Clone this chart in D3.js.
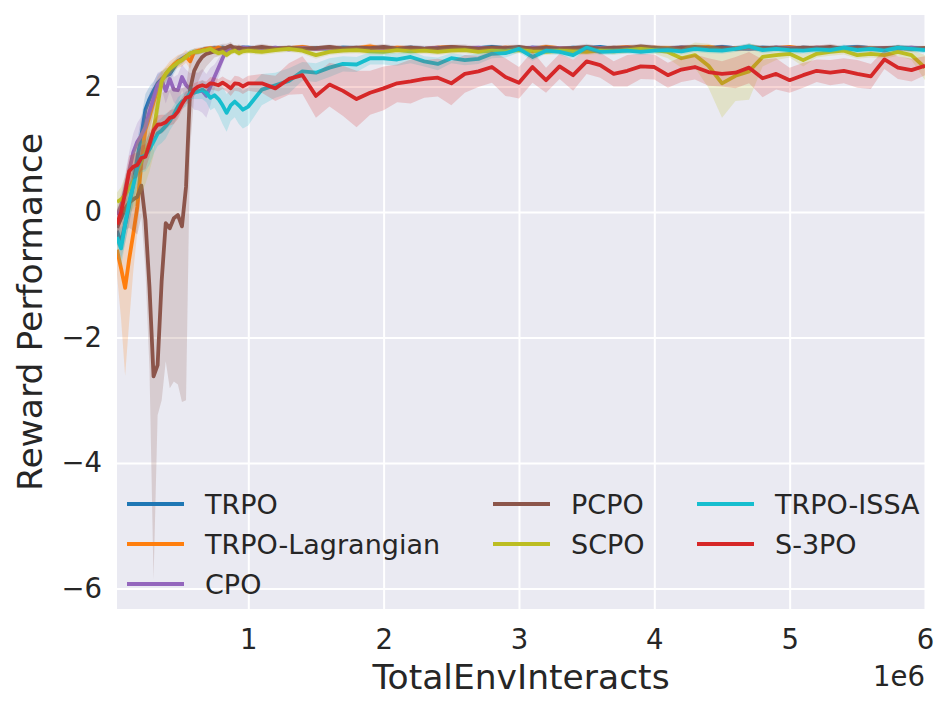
<!DOCTYPE html>
<html>
<head>
<meta charset="utf-8">
<script src="https://cdn.jsdelivr.net/npm/d3@7"></script>
<style>
  body { margin: 0; background: #fff; }
  svg { display: block; font-family: "DejaVu Sans", sans-serif; }
</style>
</head>
<body>
<svg id="chart"></svg>
<script>
// env steps, in units of 1e6
var steps = [0.03,0.06,0.09,0.12,0.15,0.18,0.21,0.24,0.27,0.30,0.33,0.36,0.39,0.42,0.45,0.48,0.51,0.54,0.57,0.60,0.63,0.66,0.69,0.72,0.75,0.78,0.81,0.84,0.87,0.90,0.93,0.96,
  1.0,1.1,1.2,1.3,1.4,1.5,1.6,1.7,1.8,1.9,2.0,2.1,2.2,2.3,2.4,2.5,2.6,2.7,2.8,2.9,3.0,3.1,3.2,3.3,3.4,3.5,3.6,3.7,3.8,3.9,
  4.0,4.1,4.2,4.3,4.4,4.5,4.6,4.7,4.8,4.9,5.0,5.1,5.2,5.3,5.4,5.5,5.6,5.7,5.8,5.9,6.0];

var xTicks = [1,2,3,4,5,6];
var yTicks = [-6,-4,-2,0,2];

// mean reward per algorithm, and half width of the shaded band
var trpoReward = [-0.3,-0.5,-0.2,0.1,0.45,0.85,1.22,1.63,1.8,1.93,2.05,2.12,2.17,2.2,2.3,2.4,2.44,2.48,2.52,2.55,2.56,2.58,2.6,2.6,2.61,2.6,2.62,2.6,2.61,2.62,2.61,2.62,
  2.62,2.6,2.61,2.6,2.62,2.61,2.6,2.62,2.61,2.6, 2.62,2.61,2.62,2.6,2.61,2.62,2.6,2.61,2.63,2.61,
  2.6,2.62,2.61,2.6,2.62,2.61,2.63,2.6,2.61,2.62, 2.6,2.61,2.62,2.6,2.61,2.63,2.61,2.6,2.62,2.61,
  2.6,2.62,2.61,2.6,2.62,2.63,2.61,2.6,2.62,2.61, 2.6];
var trpoBand = [0.2,0.25,0.3,0.3,0.3,0.3,0.3,0.25,0.2,0.15,0.15,0.12,0.12,0.1,0.1,0.08,0.08,0.06,0.06,0.05,0.05,0.05,0.04,0.04,0.04,0.04,0.04,0.04,0.04,0.04,0.04,0.04,
  0.04,0.03,0.04,0.04,0.03,0.04,0.03,0.04,0.04,0.03, 0.04,0.03,0.04,0.04,0.03,0.04,0.03,0.04,0.04,0.03,
  0.04,0.03,0.04,0.04,0.03,0.04,0.03,0.04,0.04,0.03, 0.04,0.03,0.04,0.04,0.03,0.04,0.03,0.04,0.04,0.03,
  0.04,0.03,0.04,0.04,0.03,0.04,0.03,0.04,0.04,0.03, 0.04];

var lagReward = [-0.6,-0.9,-1.21,-0.75,-0.35,0.08,0.8,1.31,1.52,1.75,1.95,2.1,2.2,2.28,2.35,2.4,2.42,2.48,2.4,2.55,2.57,2.58,2.6,2.61,2.6,2.62,2.6,2.61,2.6,2.62,2.61,2.6,
  2.6,2.62,2.6,2.61,2.63,2.6,2.62,2.6,2.61,2.64, 2.6,2.62,2.61,2.6,2.62,2.63,2.6,2.61,2.6,2.62,
  2.61,2.6,2.63,2.61,2.6,2.62,2.6,2.61,2.63,2.6, 2.62,2.61,2.6,2.62,2.63,2.6,2.61,2.62,2.6,2.61,
  2.63,2.6,2.62,2.61,2.6,2.62,2.61,2.6,2.62,2.6, 2.61];
var lagBand = [0.4,0.8,1.4,1.0,0.6,0.4,0.35,0.3,0.25,0.2,0.2,0.15,0.12,0.12,0.1,0.1,0.1,0.1,0.12,0.06,0.05,0.05,0.04,0.04,0.04,0.04,0.04,0.04,0.04,0.04,0.04,0.04,
  0.03,0.04,0.04,0.03,0.04,0.03,0.04,0.04,0.03,0.05, 0.03,0.04,0.04,0.03,0.04,0.03,0.04,0.04,0.03,0.04,
  0.03,0.04,0.04,0.03,0.04,0.03,0.04,0.04,0.03,0.04, 0.03,0.04,0.04,0.03,0.04,0.03,0.04,0.04,0.03,0.04,
  0.03,0.04,0.04,0.03,0.04,0.03,0.04,0.04,0.03,0.04, 0.03];

var cpoReward = [-0.05,0.1,0.35,0.65,0.95,1.12,1.22,1.35,1.6,1.81,2.02,2.1,1.93,2.12,1.95,1.94,2.15,2.02,1.96,1.93,1.92,1.93,1.85,2.0,2.15,2.3,2.45,2.58,2.6,2.61,2.6,2.62,
  2.61,2.6,2.62,2.59,2.61,2.6,2.62,2.6,2.61,2.59, 2.62,2.6,2.61,2.6,2.62,2.6,2.61,2.62,2.6,2.61,
  2.59,2.62,2.6,2.61,2.6,2.62,2.61,2.6,2.62,2.6, 2.61,2.6,2.62,2.61,2.6,2.62,2.6,2.61,2.6,2.62,
  2.61,2.6,2.62,2.61,2.6,2.62,2.6,2.61,2.6,2.62, 2.6];
var cpoBand = [0.15,0.2,0.25,0.3,0.3,0.3,0.3,0.3,0.3,0.25,0.2,0.15,0.2,0.2,0.2,0.25,0.2,0.25,0.25,0.3,0.3,0.35,0.35,0.3,0.2,0.15,0.1,0.06,0.05,0.04,0.04,0.04,
  0.04,0.04,0.03,0.04,0.04,0.03,0.04,0.04,0.03,0.04, 0.04,0.03,0.04,0.04,0.03,0.04,0.04,0.03,0.04,0.04,
  0.03,0.04,0.04,0.03,0.04,0.04,0.03,0.04,0.04,0.03, 0.04,0.04,0.03,0.04,0.04,0.03,0.04,0.04,0.03,0.04,
  0.04,0.03,0.04,0.04,0.03,0.04,0.04,0.03,0.04,0.04, 0.03];

var pcpoReward = [-0.25,-0.1,0.05,0.15,0.2,0.24,0.42,-0.13,-1.2,-2.62,-2.44,-1.1,-0.18,-0.26,-0.1,-0.05,-0.23,0.4,1.95,2.25,2.38,2.47,2.52,2.54,2.56,2.58,2.6,2.62,2.65,2.6,2.62,2.6,
  2.6,2.63,2.6,2.62,2.6,2.61,2.63,2.6,2.62,2.61, 2.63,2.6,2.62,2.6,2.61,2.63,2.62,2.6,2.62,2.61,
  2.63,2.6,2.62,2.6,2.61,2.63,2.6,2.62,2.61,2.64, 2.62,2.6,2.62,2.63,2.61,2.62,2.6,2.63,2.61,2.62,
  2.6,2.62,2.61,2.63,2.6,2.62,2.6,2.61,2.62,2.6, 2.61];
var pcpoBandLo = [0.3,0.3,0.35,0.4,0.5,0.6,0.5,0.8,1.3,3.24,0.8,1.9,2.2,2.55,2.6,2.7,2.8,3.4,0.95,0.4,0.3,0.25,0.2,0.15,0.1,0.1,0.08,0.08,0.06,0.06,0.05,0.05,
  0.04,0.05,0.04,0.04,0.05,0.04,0.04,0.05,0.04,0.04, 0.05,0.04,0.04,0.05,0.04,0.04,0.05,0.04,0.04,0.05,
  0.04,0.04,0.05,0.04,0.04,0.05,0.04,0.04,0.05,0.04, 0.04,0.05,0.04,0.04,0.05,0.04,0.04,0.05,0.04,0.04,
  0.05,0.04,0.04,0.05,0.04,0.04,0.05,0.04,0.04,0.05, 0.04];
var pcpoBandHi = [0.3,0.3,0.35,0.4,0.5,0.5,0.3,1.2,2.5,3.6,4.0,3.0,2.1,2.2,2.1,2.0,2.2,1.6,0.5,0.3,0.2,0.15,0.12,0.1,0.1,0.08,0.08,0.06,0.06,0.05,0.05,0.05,
  0.04,0.05,0.04,0.04,0.05,0.04,0.04,0.05,0.04,0.04, 0.05,0.04,0.04,0.05,0.04,0.04,0.05,0.04,0.04,0.05,
  0.04,0.04,0.05,0.04,0.04,0.05,0.04,0.04,0.05,0.04, 0.04,0.05,0.04,0.04,0.05,0.04,0.04,0.05,0.04,0.04,
  0.05,0.04,0.04,0.05,0.04,0.04,0.05,0.04,0.04,0.05, 0.04];

var scpoReward = [0.16,0.2,0.27,0.38,0.5,0.65,0.8,0.95,1.1,1.3,1.7,2.08,2.2,2.28,2.33,2.38,2.42,2.47,2.53,2.55,2.55,2.57,2.58,2.6,2.56,2.53,2.55,2.5,2.55,2.57,2.53,2.56,
  2.57,2.55,2.58,2.6,2.57,2.5,2.55,2.57,2.58,2.56, 2.55,2.58,2.56,2.57,2.55,2.57,2.58,2.55,2.57,2.56,
  2.58,2.56,2.55,2.57,2.56,2.55,2.57,2.56,2.58,2.6, 2.58,2.55,2.45,2.5,2.33,2.05,2.17,2.24,2.47,2.5,
  2.52,2.42,2.52,2.55,2.57,2.5,2.52,2.5,2.55,2.5, 2.3];
var scpoBand = [0.15,0.2,0.3,0.4,0.45,0.5,0.5,0.5,0.45,0.4,0.3,0.15,0.1,0.08,0.08,0.06,0.06,0.05,0.05,0.05,0.04,0.04,0.04,0.04,0.05,0.05,0.05,0.05,0.05,0.05,0.05,0.05,
  0.05,0.05,0.05,0.05,0.05,0.06,0.05,0.05,0.05,0.05, 0.05,0.05,0.05,0.05,0.05,0.05,0.05,0.05,0.05,0.05,
  0.05,0.05,0.05,0.05,0.05,0.05,0.05,0.05,0.05,0.06, 0.06,0.1,0.15,0.2,0.35,0.55,0.4,0.45,0.15,0.08,
  0.06,0.1,0.06,0.06,0.06,0.06,0.06,0.06,0.06,0.08, 0.2];

var issaReward = [-0.4,-0.58,-0.2,0.15,0.42,0.7,0.88,0.9,1.0,1.12,1.25,1.3,1.37,1.45,1.55,1.68,1.76,1.8,1.9,1.9,1.92,1.95,1.9,1.82,1.86,1.8,1.7,1.58,1.7,1.76,1.7,1.63,
  1.68,1.95,2.02,2.09,2.24,2.22,2.3,2.36,2.35,2.45, 2.45,2.43,2.47,2.4,2.36,2.45,2.42,2.44,2.52,2.53,
  2.6,2.47,2.57,2.55,2.5,2.62,2.55,2.56,2.57,2.55, 2.57,2.58,2.56,2.6,2.58,2.57,2.6,2.64,2.58,2.6,
  2.58,2.57,2.59,2.58,2.62,2.58,2.6,2.57,2.62,2.6, 2.58];
var issaBand = [0.25,0.3,0.3,0.3,0.3,0.3,0.25,0.25,0.25,0.2,0.2,0.2,0.2,0.15,0.15,0.15,0.12,0.12,0.1,0.1,0.12,0.15,0.15,0.2,0.2,0.25,0.3,0.3,0.25,0.25,0.3,0.3,
  0.3,0.25,0.2,0.2,0.15,0.15,0.15,0.12,0.12,0.1, 0.1,0.1,0.1,0.08,0.1,0.08,0.08,0.08,0.07,0.07,
  0.06,0.06,0.05,0.05,0.06,0.05,0.05,0.05,0.05,0.05, 0.05,0.05,0.05,0.05,0.05,0.05,0.05,0.05,0.05,0.05,
  0.05,0.05,0.05,0.05,0.05,0.05,0.05,0.05,0.05,0.05, 0.05];

var s3poReward = [-0.2,0.0,0.3,0.65,0.72,0.75,0.86,0.88,1.08,1.3,1.39,1.4,1.43,1.5,1.52,1.6,1.72,1.82,1.84,1.95,2.0,2.02,2.0,2.05,2.04,2.02,2.06,2.02,1.97,2.05,2.04,2.0,
  2.05,2.05,1.97,2.12,2.18,1.85,2.03,1.93,1.8,1.9, 1.97,2.05,2.08,2.12,2.14,2.05,2.2,2.24,2.31,2.15,
  2.06,2.31,2.1,2.32,2.18,2.4,2.34,2.2,2.25,2.32, 2.31,2.18,2.27,2.31,2.23,2.2,2.22,2.3,2.13,2.2,
  2.1,2.18,2.25,2.22,2.25,2.2,2.16,2.43,2.3,2.26, 2.33];
var s3poBand = [0.2,0.2,0.25,0.25,0.2,0.2,0.2,0.2,0.2,0.15,0.15,0.15,0.12,0.12,0.12,0.12,0.1,0.1,0.1,0.1,0.08,0.08,0.08,0.1,0.1,0.1,0.1,0.1,0.12,0.12,0.12,0.12,
  0.12,0.15,0.2,0.25,0.3,0.35,0.35,0.4,0.45,0.35, 0.35,0.3,0.35,0.3,0.3,0.35,0.3,0.25,0.25,0.3,
  0.25,0.25,0.2,0.2,0.25,0.2,0.2,0.2,0.25,0.2, 0.2,0.2,0.2,0.2,0.22,0.2,0.25,0.25,0.3,0.25,
  0.2,0.2,0.18,0.2,0.2,0.22,0.2,0.15,0.18,0.18, 0.15];

var series = [
  {name: 'TRPO', color: '#1f77b4', mean: trpoReward, lo: trpoBand, hi: trpoBand},
  {name: 'TRPO-Lagrangian', color: '#ff7f0e', mean: lagReward, lo: lagBand, hi: lagBand},
  {name: 'CPO', color: '#9467bd', mean: cpoReward, lo: cpoBand, hi: cpoBand},
  {name: 'PCPO', color: '#8c564b', mean: pcpoReward, lo: pcpoBandLo, hi: pcpoBandHi},
  {name: 'SCPO', color: '#bcbd22', mean: scpoReward, lo: scpoBand, hi: scpoBand},
  {name: 'TRPO-ISSA', color: '#17becf', mean: issaReward, lo: issaBand, hi: issaBand},
  {name: 'S-3PO', color: '#d62728', mean: s3poReward, lo: s3poBand, hi: s3poBand}
];

series.forEach(function(s){
  [s.mean, s.lo, s.hi].forEach(function(a){
    if (a.length !== steps.length) throw new Error(s.name + ' length ' + a.length);
  });
});

var width = 950, height = 710;
var plotLeft = 117, plotRight = 925, plotTop = 15, plotBottom = 609;
var textColor = '#262626';

var svg = d3.select('#chart')
    .attr('width', width)
    .attr('height', height);

var x = d3.scaleLinear().domain([0.03, 6]).range([plotLeft, plotRight]);
var y = d3.scaleLinear().domain([-6.327, 3.139]).range([plotBottom, plotTop]);

// axes background
svg.append('rect')
    .attr('x', plotLeft).attr('y', plotTop)
    .attr('width', plotRight - plotLeft).attr('height', plotBottom - plotTop)
    .attr('fill', '#eaeaf2');

svg.append('clipPath').attr('id', 'plotclip')
  .append('rect')
    .attr('x', plotLeft).attr('y', plotTop)
    .attr('width', plotRight - plotLeft).attr('height', plotBottom - plotTop);

// x grid + labels
var xAxis = svg.append('g')
    .attr('transform', 'translate(0,' + plotBottom + ')')
    .call(d3.axisBottom(x).tickValues(xTicks).tickSize(-(plotBottom - plotTop)).tickPadding(20)
      .tickFormat(d3.format('d')));
xAxis.select('.domain').remove();
xAxis.selectAll('line').attr('stroke', '#fff').attr('stroke-width', 2);
xAxis.selectAll('text').attr('fill', textColor).style('font-size', '27.5px')
    .style('font-family', '"DejaVu Sans", sans-serif');

// y grid + labels
var yAxis = svg.append('g')
    .attr('transform', 'translate(' + plotLeft + ',0)')
    .call(d3.axisLeft(y).tickValues(yTicks).tickSize(-(plotRight - plotLeft)).tickPadding(15));
yAxis.select('.domain').remove();
yAxis.selectAll('line').attr('stroke', '#fff').attr('stroke-width', 2);
yAxis.selectAll('text').attr('fill', textColor).style('font-size', '27.5px')
    .style('font-family', '"DejaVu Sans", sans-serif');

var plot = svg.append('g').attr('clip-path', 'url(#plotclip)');

series.forEach(function(s){
  var line = d3.line()
      .x(function(d, i){ return x(steps[i]); })
      .y(function(d){ return y(d); });
  var band = d3.area()
      .x(function(d, i){ return x(steps[i]); })
      .y0(function(d, i){ return y(d - s.lo[i]); })
      .y1(function(d, i){ return y(d + s.hi[i]); });

  plot.append('path')
      .datum(s.mean)
      .attr('d', line)
      .attr('fill', 'none')
      .attr('stroke', s.color)
      .attr('stroke-width', 3.8)
      .attr('stroke-linejoin', 'round');
  plot.append('path')
      .datum(s.mean)
      .attr('d', band)
      .attr('fill', s.color)
      .attr('fill-opacity', 0.2)
      .attr('stroke', 'none');
});

// legend, 3 columns
var legendCols = [[0, 1, 2], [3, 4], [5, 6]];
var colX = [127, 493, 697];
var rowY = [504, 544, 584];
legendCols.forEach(function(col, c){
  col.forEach(function(k, r){
    var s = series[k];
    svg.append('line')
        .attr('x1', colX[c]).attr('x2', colX[c] + 57)
        .attr('y1', rowY[r]).attr('y2', rowY[r])
        .attr('stroke', s.color).attr('stroke-width', 4);
    svg.append('text')
        .attr('x', colX[c] + 78).attr('y', rowY[r])
        .attr('dy', '0.36em')
        .attr('fill', textColor)
        .style('font-size', '27px')
        .text(s.name);
  });
});

// axis titles
svg.append('text')
    .attr('x', (plotLeft + plotRight) / 2).attr('y', 689)
    .attr('text-anchor', 'middle')
    .attr('fill', textColor)
    .style('font-size', '34.5px')
    .text('TotalEnvInteracts');

svg.append('text')
    .attr('transform', 'translate(42,' + (plotTop + plotBottom) / 2 + ') rotate(-90)')
    .attr('text-anchor', 'middle')
    .attr('fill', textColor)
    .style('font-size', '34.5px')
    .text('Reward Performance');

svg.append('text')
    .attr('x', plotRight).attr('y', 686)
    .attr('text-anchor', 'end')
    .attr('fill', textColor)
    .style('font-size', '27.5px')
    .text('1e6');
</script>
</body>
</html>
